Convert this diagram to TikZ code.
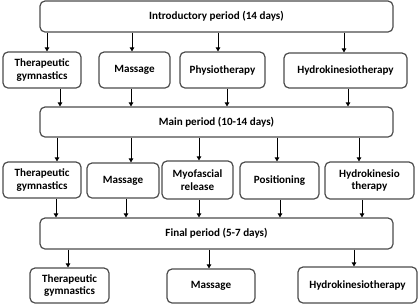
\documentclass[tikz,border=0pt]{standalone}
\usepackage{fontspec}
\setmainfont{Carlito}
\usetikzlibrary{arrows.meta}
\tikzset{
  box/.style={draw=black!70, line width=1.2pt, rounded corners=5pt, align=center,
    font=\bfseries\fontsize{11.1}{12.8}\selectfont, inner sep=1pt},
  arr/.style={draw=black, line width=0.8pt, -{Triangle[width=4.5pt,length=4pt]}}
}
\begin{document}
\begin{tikzpicture}[x=1pt,y=-1pt]
\useasboundingbox (0,0) rectangle (420,306);
% periods
\node[box, minimum width=353pt, minimum height=31pt] (intro) at (216.5,16.5) {Introductory period (14 days)};
\node[box, minimum width=353pt, minimum height=30pt] (main) at (216.5,122) {Main period (10-14 days)};
\node[box, minimum width=353pt, minimum height=31pt] (final) at (216.5,233.5) {Final period (5-7 days)};
% row 1
\node[box, minimum width=78pt, minimum height=36pt] (r1a) at (42,70) {Therapeutic\\gymnastics};
\node[box, minimum width=71pt, minimum height=36pt] (r1b) at (134.5,70) {Massage};
\node[box, minimum width=85pt, minimum height=36pt] (r1c) at (222.5,70) {Physiotherapy};
\node[box, minimum width=123pt, minimum height=35pt] (r1d) at (345.5,70.5) {Hydrokinesiotherapy};
% row 2
\node[box, minimum width=78pt, minimum height=36pt] (r2a) at (42,180) {Therapeutic\\gymnastics};
\node[box, minimum width=72pt, minimum height=35pt] (r2b) at (123,180.5) {Massage};
\node[box, minimum width=71pt, minimum height=38pt] (r2c) at (197.5,180) {Myofascial\\release};
\node[box, minimum width=79pt, minimum height=37pt] (r2d) at (279.5,180.5) {Positioning};
\node[box, minimum width=89pt, minimum height=37pt] (r2e) at (369.5,180.5) {Hydrokinesio\\therapy};
% row 3
\node[box, minimum width=79pt, minimum height=35pt] (r3a) at (69.5,285.5) {Therapeutic\\gymnastics};
\node[box, minimum width=88pt, minimum height=34pt] (r3b) at (211,286) {Massage};
\node[box, minimum width=119pt, minimum height=36pt] (r3c) at (357.5,285) {Hydrokinesiotherapy};
% arrow x positions
\coordinate (x1) at (47,0);  \coordinate (x2) at (132,0);
\coordinate (x3) at (218,0); \coordinate (x4) at (344,0);
\coordinate (y1) at (60,0);  \coordinate (y2) at (131,0);
\coordinate (y3) at (227,0); \coordinate (y4) at (348,0);
\coordinate (z1) at (57,0);  \coordinate (z2) at (131,0);
\coordinate (z3) at (199,0); \coordinate (z4) at (277,0); \coordinate (z5) at (359,0);
\coordinate (w1) at (56,0);  \coordinate (w2) at (126,0);
\coordinate (w3) at (199,0); \coordinate (w4) at (280,0); \coordinate (w5) at (362,0);
\coordinate (v1) at (68,0);  \coordinate (v2) at (209,0); \coordinate (v3) at (354,0);
% arrows intro -> row1
\draw[arr] (intro.south -| x1) -- (r1a.north -| x1);
\draw[arr] (intro.south -| x2) -- (r1b.north -| x2);
\draw[arr] (intro.south -| x3) -- (r1c.north -| x3);
\draw[arr] (intro.south -| x4) -- (r1d.north -| x4);
% row1 -> main
\draw[arr] (r1a.south -| y1) -- (main.north -| y1);
\draw[arr] (r1b.south -| y2) -- (main.north -| y2);
\draw[arr] (r1c.south -| y3) -- (main.north -| y3);
\draw[arr] (r1d.south -| y4) -- (main.north -| y4);
% main -> row2
\draw[arr] (main.south -| z1) -- (r2a.north -| z1);
\draw[arr] (main.south -| z2) -- (r2b.north -| z2);
\draw[arr] (main.south -| z3) -- (r2c.north -| z3);
\draw[arr] (main.south -| z4) -- (r2d.north -| z4);
\draw[arr] (main.south -| z5) -- (r2e.north -| z5);
% row2 -> final
\draw[arr] (r2a.south -| w1) -- (final.north -| w1);
\draw[arr] (r2b.south -| w2) -- (final.north -| w2);
\draw[arr] (r2c.south -| w3) -- (final.north -| w3);
\draw[arr] (r2d.south -| w4) -- (final.north -| w4);
\draw[arr] (r2e.south -| w5) -- (final.north -| w5);
% final -> row3
\draw[arr] (final.south -| v1) -- (r3a.north -| v1);
\draw[arr] (final.south -| v2) -- (r3b.north -| v2);
\draw[arr] (final.south -| v3) -- (r3c.north -| v3);
\end{tikzpicture}
\end{document}
